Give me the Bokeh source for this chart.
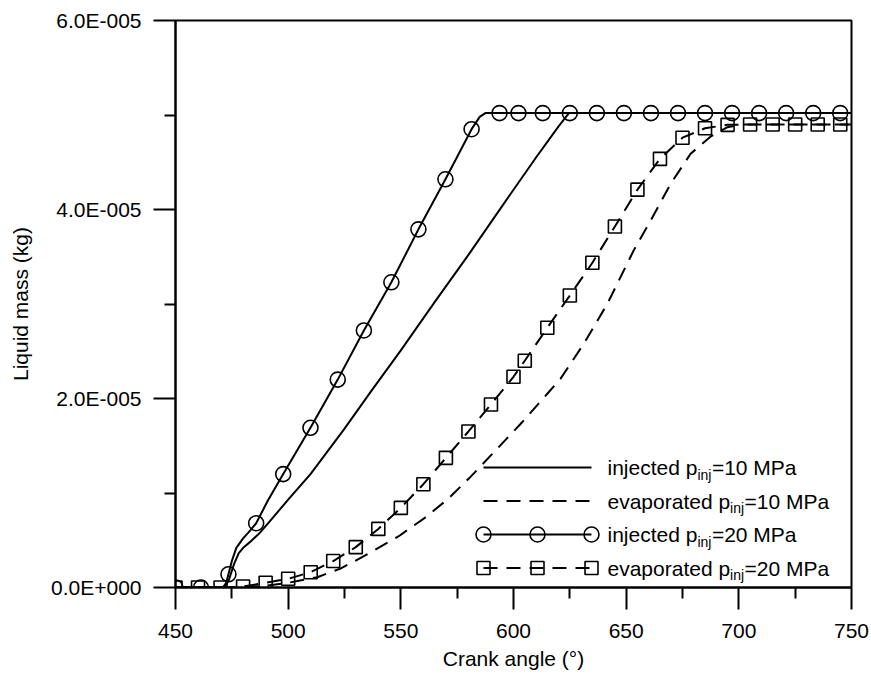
from bokeh.plotting import figure
from bokeh.models import Range1d, FixedTicker, CustomJSTickFormatter, Label
from bokeh.embed import file_html
from bokeh.resources import INLINE

PER = 1e5  # all liquid-mass values below are in units of 1E-005 kg (divide by PER for kg)

# ---- injected, p_inj = 10 MPa (solid line)
inj10_x = [450, 471, 472.5, 473.6, 476, 478, 480.3, 483, 487, 492.2, 500, 509.9,
           524.7, 536.6, 550, 565, 580, 597.1, 610, 620, 624.6, 750]
inj10_y = [0, 0, 0.03, 0.074, 0.25, 0.36, 0.427, 0.48, 0.568, 0.71, 0.93, 1.2,
           1.67, 2.07, 2.51, 3.02, 3.52, 4.11, 4.55, 4.88, 5.02, 5.02]

# ---- evaporated, p_inj = 10 MPa (dashed line)
eva10_x = [450, 480, 490, 500, 512.9, 523.2, 534.2, 548.9, 560.8, 570.6, 580.9,
           591.3, 603.1, 615, 620.9, 631.2, 641.6, 653.4, 660.8, 669.7, 678.6,
           687.4, 694.8, 702, 750]
eva10_y = [0, 0, 0.02, 0.05, 0.109, 0.2, 0.339, 0.54, 0.74, 0.93, 1.17,
           1.432, 1.73, 2.05, 2.21, 2.58, 3.0, 3.57, 3.88, 4.27, 4.59,
           4.77, 4.87, 4.9, 4.9]

# ---- injected, p_inj = 20 MPa (solid line + circles)
inj20_x = [450, 471, 472.5, 473.5, 475, 477, 480, 483, 485.8, 491, 497.8, 509.9,
           522, 533.6, 545.8, 557.8, 569.8, 581.4, 585, 587.5, 750]
inj20_y = [0, 0, 0.05, 0.14, 0.28, 0.42, 0.52, 0.6, 0.68, 0.92, 1.2, 1.69,
           2.2, 2.72, 3.23, 3.79, 4.32, 4.85, 4.98, 5.02, 5.02]
inj20_mx = [450, 461.3, 473.5, 485.8, 497.8, 509.9, 522.0, 533.6, 545.8, 557.8,
            569.8, 581.4, 593.8, 602.2, 613.0, 625.0, 637.0, 649.0, 661.0,
            673.0, 685.0, 697.0, 709.0, 721.0, 733.0, 745.0]
inj20_my = [0, 0, 0.14, 0.68, 1.2, 1.69, 2.2, 2.72, 3.23, 3.79,
            4.32, 4.85, 5.02, 5.02, 5.02, 5.02, 5.02, 5.02, 5.02,
            5.02, 5.02, 5.02, 5.02, 5.02, 5.02, 5.02]

# ---- evaporated, p_inj = 20 MPa (dashed line + squares)
eva20_x = [450, 460, 470, 480, 490, 500, 510, 520, 530, 540, 550, 560, 570, 580,
           590, 600, 605, 615, 625, 635, 645, 655, 665, 675, 685, 695, 705, 715,
           725, 735, 745]
eva20_y = [0, 0, 0, 0.01, 0.05, 0.092, 0.162, 0.28, 0.427, 0.62, 0.843, 1.093,
           1.372, 1.651, 1.937, 2.23, 2.40, 2.748, 3.09, 3.436, 3.82, 4.21,
           4.536, 4.76, 4.86, 4.896, 4.9, 4.9, 4.9, 4.9, 4.9]
eva20_end_x = 750
eva20_end_y = 4.9

x_ticks = [450, 500, 550, 600, 650, 700, 750]
x_minor = [475, 525, 575, 625, 675, 725]
y_ticks = [0, 2, 4, 6]
y_minor = [1, 3, 5]

legend_labels = [("injected p", "inj", "=10 MPa"),
                 ("evaporated p", "inj", "=10 MPa"),
                 ("injected p", "inj", "=20 MPa"),
                 ("evaporated p", "inj", "=20 MPa")]

FONT = "Liberation Sans"
X0, X1, Y0, Y1 = 450, 750, 0, 6 / PER

p = figure(width=871, height=675, output_backend="svg", toolbar_location=None,
           x_range=Range1d(X0, X1), y_range=Range1d(Y0, Y1),
           min_border_left=175, min_border_right=20, min_border_top=20,
           min_border_bottom=88)
p.background_fill_color = "white"
p.border_fill_color = "white"
p.outline_line_color = "black"
p.outline_line_width = 2
p.xgrid.visible = False
p.ygrid.visible = False

def kg(v):
    return [a / PER for a in v]

DASH = "14 9"
LW = 2
p.line(inj10_x, kg(inj10_y), line_color="black", line_width=LW, line_join="round")
p.line(eva10_x, kg(eva10_y), line_color="black", line_width=LW, line_dash=DASH)
p.line(inj20_x, kg(inj20_y), line_color="black", line_width=LW, line_join="round")
p.scatter(inj20_mx, kg(inj20_my), marker="circle", size=15, fill_color=None,
          line_color="black", line_width=1.6)
p.line(eva20_x + [eva20_end_x], kg(eva20_y + [eva20_end_y]), line_color="black",
       line_width=LW, line_dash=DASH)
p.scatter(eva20_x, kg(eva20_y), marker="square", size=13, fill_color=None,
          line_color="black", line_width=1.6)

# axes
fmt = CustomJSTickFormatter(code="""
const s = tick.toExponential(1).split('e');
let e = parseInt(s[1]);
const sign = e < 0 ? '-' : '+';
e = Math.abs(e);
return s[0] + 'E' + sign + String(e).padStart(3, '0');
""")
for ax in (p.xaxis[0], p.yaxis[0]):
    ax.axis_line_width = 2
    ax.major_tick_line_width = 2
    ax.minor_tick_line_width = 2
    ax.major_tick_in = 0
    ax.major_tick_out = 22
    ax.minor_tick_in = 0
    ax.minor_tick_out = 11
    ax.major_label_text_font = FONT
    ax.major_label_text_font_size = "21px"
    ax.major_label_text_color = "black"
    ax.axis_label_text_font = FONT
    ax.axis_label_text_font_size = "21px"
    ax.axis_label_text_font_style = "normal"
    ax.axis_label_text_color = "black"

p.xaxis.ticker = FixedTicker(ticks=x_ticks, minor_ticks=x_minor)
p.yaxis.ticker = FixedTicker(ticks=[t / PER for t in y_ticks],
                             minor_ticks=[t / PER for t in y_minor])
p.yaxis.formatter = fmt
p.xaxis.axis_label = "Crank angle (°)"
p.yaxis.axis_label = "Liquid mass (kg)"
p.xaxis.major_label_standoff = 14
p.yaxis.major_label_standoff = 12
p.xaxis.axis_label_standoff = 6
p.yaxis.axis_label_standoff = 16

# ---- legend (drawn by hand so the subscript can be reproduced)
def px2x(px):
    return X0 + (px - 175) * (X1 - X0) / 676

def py2y(py):
    return Y0 + (587 - py) * (Y1 - Y0) / 567

rows = [467, 500.5, 534, 567.5]
lx = [px2x(483), px2x(591)]
mx = [px2x(483), px2x(537), px2x(591)]
for i, py in enumerate(rows):
    yy = py2y(py)
    dash = DASH if i in (1, 3) else "solid"
    p.line(lx, [yy, yy], line_color="black", line_width=LW, line_dash=dash)
    if i == 2:
        p.scatter(mx, [yy] * 3, marker="circle", size=15, fill_color=None,
                  line_color="black", line_width=1.6)
    if i == 3:
        p.scatter(mx, [yy] * 3, marker="square", size=13, fill_color=None,
                  line_color="black", line_width=1.6)

widths = {"injected p": 4.280 * 21, "evaporated p": 5.837 * 21}
for (a, b, c), py in zip(legend_labels, rows):
    yy = py2y(py)
    xx = px2x(607)
    w1 = widths[a]
    p.add_layout(Label(x=xx, y=yy, text=a, text_font=FONT, text_font_size="21px",
                       text_baseline="middle", text_color="black"))
    p.add_layout(Label(x=xx, y=yy, x_offset=w1, y_offset=-7, text=b, text_font=FONT,
                       text_font_size="14px", text_baseline="middle",
                       text_color="black"))
    p.add_layout(Label(x=xx, y=yy, x_offset=w1 + 14.5, text=c, text_font=FONT,
                       text_font_size="21px", text_baseline="middle",
                       text_color="black"))

open("out.html", "w").write(file_html(p, INLINE))
